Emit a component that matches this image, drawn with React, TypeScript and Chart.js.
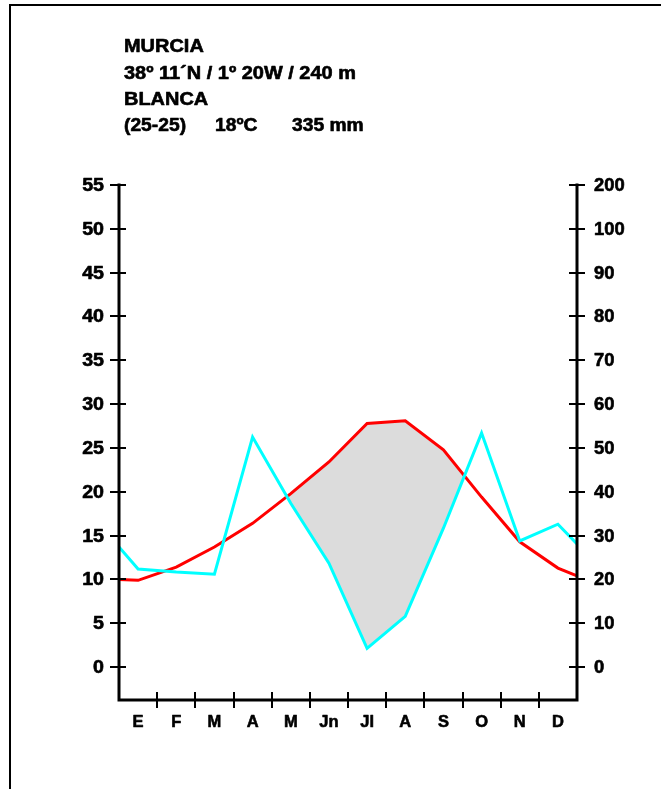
import React, { useEffect, useRef } from "react";
import { Chart, registerables } from "chart.js";

Chart.register(...registerables);

// ---- data ----
const months = ["E", "F", "M", "A", "M", "Jn", "Jl", "A", "S", "O", "N", "D"];
const temperature = [9.9, 11.4, 13.7, 16.4, 19.8, 23.4, 27.8, 28.1, 24.8, 19.4, 14.3, 11.3];
const precipitation = [22.4, 21.7, 21.2, 52.5, 37.4, 23.7, 4.3, 11.6, 31.7, 53.4, 28.8, 32.6];
const temperatureEdges = [10.0, 10.4]; // values drawn at the left / right frame
const precipitationEdges = [27.4, 28.1];
const dryMonthsRange = [3, 9]; // Apr..Oct, where the grey area is drawn
const tempTicks = [0, 5, 10, 15, 20, 25, 30, 35, 40, 45, 50, 55];
const precipTickValues = [0, 10, 20, 30, 40, 50, 60, 70, 80, 90, 100, 110];
const precipTickLabels = ["0", "10", "20", "30", "40", "50", "60", "70", "80", "90", "100", "200"];
const headerLines = ["MURCIA", "38º 11´N / 1º 20W / 240 m", "BLANCA"];
const summaryTexts = ["(25-25)", "18ºC", "335 mm"];

const FONT = "'Liberation Sans', Arial, sans-serif";

function drawText(ctx: CanvasRenderingContext2D, text: string, x: number, y: number, align: CanvasTextAlign, size: number, sx: number, baseline: CanvasTextBaseline = "alphabetic") {
  ctx.save();
  ctx.translate(x, y);
  ctx.scale(sx, 1);
  ctx.font = `bold ${size}px ${FONT}`;
  ctx.textAlign = align;
  ctx.textBaseline = baseline;
  ctx.fillStyle = "#000";
  ctx.strokeStyle = "#000";
  ctx.lineWidth = 0.6;
  ctx.lineJoin = "round";
  ctx.fillText(text, 0, 0);
  ctx.strokeText(text, 0, 0);
  ctx.restore();
}

const axesPlugin = {
  id: "climateAxes",
  afterDraw(chart: any) {
    const ctx: CanvasRenderingContext2D = chart.ctx;
    const { left, right, top, bottom } = chart.chartArea;
    const x = chart.scales.x;
    const y = chart.scales.y;
    const y2 = chart.scales.y2;
    ctx.save();
    ctx.fillStyle = "#000";
    // outer frame
    ctx.fillRect(9, 4, chart.width, 2);
    ctx.fillRect(9, 4, 2, chart.height);
    // axis lines
    ctx.strokeStyle = "#000";
    ctx.lineWidth = 3;
    ctx.lineCap = "square";
    ctx.beginPath();
    ctx.moveTo(left, top);
    ctx.lineTo(left, bottom);
    ctx.lineTo(right, bottom);
    ctx.lineTo(right, top);
    ctx.stroke();
    ctx.lineWidth = 2;
    ctx.lineCap = "butt";
    // left ticks
    tempTicks.forEach((v) => {
      const py = Math.round(y.getPixelForValue(v));
      ctx.beginPath();
      ctx.moveTo(left - 9, py);
      ctx.lineTo(left + 7, py);
      ctx.stroke();
      drawText(ctx, String(v), left - 15, py + 1, "right", 17.5, 1.12, "middle");
    });
    // right ticks
    precipTickValues.forEach((v, i) => {
      const py = Math.round(y2.getPixelForValue(v));
      ctx.beginPath();
      ctx.moveTo(right - 8, py);
      ctx.lineTo(right + 8, py);
      ctx.stroke();
      drawText(ctx, precipTickLabels[i], right + 17, py + 1, "left", 17.5, 1.05, "middle");
    });
    // x ticks at month boundaries, labels at month centres
    months.forEach((m, i) => {
      if (i > 0) {
        const px = Math.round(x.getPixelForValue(i));
        ctx.beginPath();
        ctx.moveTo(px, bottom - 8);
        ctx.lineTo(px, bottom + 8);
        ctx.stroke();
      }
      drawText(ctx, m, x.getPixelForValue(i + 0.5), bottom + 27, "center", 16.5, 1.0);
    });
    // header
    const hx = 124;
    const baselines = [52, 79, 105];
    headerLines.forEach((t, i) => drawText(ctx, t, hx, baselines[i], "left", 17.5, 1.14));
    const sxPos = [124, 215, 292];
    summaryTexts.forEach((t, i) => drawText(ctx, t, sxPos[i], 131, "left", 17.5, 1.1));
    ctx.restore();
  },
};

export default function App() {
  const ref = useRef<HTMLCanvasElement | null>(null);
  useEffect(() => {
    if (!ref.current) return;
    const n = months.length;
    const tempData = [
      { x: 0, y: temperatureEdges[0] },
      ...temperature.map((v, i) => ({ x: i + 0.5, y: v })),
      { x: n, y: temperatureEdges[1] },
    ];
    const precData = [
      { x: 0, y: precipitationEdges[0] },
      ...precipitation.map((v, i) => ({ x: i + 0.5, y: v })),
      { x: n, y: precipitationEdges[1] },
    ];
    const dryData = temperature
      .map((v, i) => ({ x: i + 0.5, y: v }))
      .slice(dryMonthsRange[0], dryMonthsRange[1] + 1);

    const chart = new Chart(ref.current, {
      type: "line",
      data: {
        datasets: [
          {
            label: "Precipitación",
            data: precData,
            yAxisID: "y2",
            borderColor: "#00ffff",
            borderWidth: 3,
            pointRadius: 0,
            fill: false,
            tension: 0,
          },
          {
            label: "Temperatura",
            data: tempData,
            yAxisID: "y",
            borderColor: "#ff0000",
            borderWidth: 3,
            pointRadius: 0,
            fill: false,
            tension: 0,
          },
          {
            label: "Aridez",
            data: dryData,
            yAxisID: "y",
            borderColor: "rgba(0,0,0,0)",
            borderWidth: 0,
            pointRadius: 0,
            fill: { target: 0, above: "#dcdcdc", below: "rgba(0,0,0,0)" },
            tension: 0,
          },
        ],
      },
      options: {
        animation: false,
        responsive: false,
        maintainAspectRatio: false,
        devicePixelRatio: 1,
        layout: { padding: { left: 119, right: 84, top: 185, bottom: 89 } },
        plugins: { legend: { display: false }, tooltip: { enabled: false }, title: { display: false } },
        scales: {
          x: { type: "linear", min: 0, max: 12, display: false },
          y: { type: "linear", min: -3.75, max: 55, display: false },
          y2: { type: "linear", min: -7.5, max: 110, display: false },
        },
      },
      plugins: [axesPlugin],
    } as any);
    return () => chart.destroy();
  }, []);
  return (
    <div style={{ position: "absolute", left: 0, top: 0, width: 661, height: 789, background: "#fff" }}>
      <canvas ref={ref} width={661} height={789} style={{ display: "block", width: 661, height: 789 }} />
    </div>
  );
}
